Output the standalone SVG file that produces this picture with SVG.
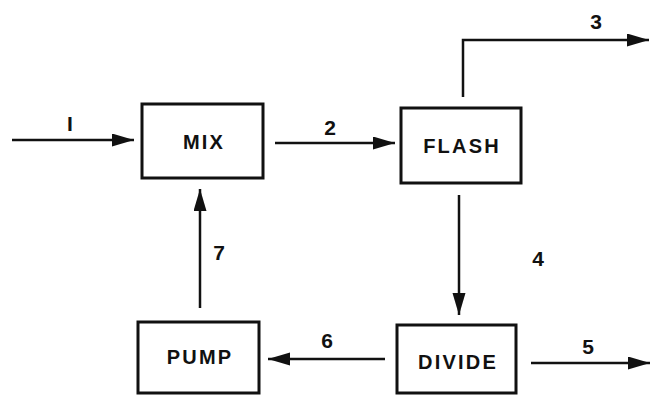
<svg xmlns="http://www.w3.org/2000/svg" width="651" height="396" viewBox="0 0 651 396">
<style>
.box{fill:#fff;stroke:#111;stroke-width:3}
.lbl{font-family:"Liberation Sans",Arial,sans-serif;font-weight:bold;font-size:20px;letter-spacing:2.2px;fill:#111;text-anchor:middle;dominant-baseline:central}
.num{font-family:"Liberation Sans",Arial,sans-serif;font-weight:bold;font-size:21px;fill:#111;text-anchor:middle;dominant-baseline:central}
.ln{fill:none;stroke:#111;stroke-width:2.5;marker-end:url(#ah)}
</style>
<defs>
<marker id="ah" markerWidth="24" markerHeight="14" refX="22" refY="6.5" orient="auto" markerUnits="userSpaceOnUse">
<path d="M0,0 L22,6.5 L0,13 Z" fill="#111"/>
</marker>
</defs>
<rect width="651" height="396" fill="#fff"/>
<g id="connectors">
<path class="ln" d="M12,140 L134,140"/>
<path class="ln" d="M275,143 L395,143"/>
<path class="ln" d="M463,97 L463,40 L649,40"/>
<path class="ln" d="M459,195 L459,315"/>
<path class="ln" d="M531,363 L650,363"/>
<path class="ln" d="M385,359 L268,359"/>
<path class="ln" d="M200,308 L200,189"/>
<text class="num" x="70" y="123">I</text>
<text class="num" x="330" y="127">2</text>
<text class="num" x="596" y="21">3</text>
<text class="num" x="538" y="258">4</text>
<text class="num" x="588" y="346">5</text>
<text class="num" x="327" y="340">6</text>
<text class="num" x="219" y="252">7</text>
</g>
<g id="mix"><rect class="box" x="142" y="104" width="121" height="74"/><text class="lbl" x="204" y="142">MIX</text></g>
<g id="flash"><rect class="box" x="401" y="108" width="120" height="75"/><text class="lbl" x="462" y="146">FLASH</text></g>
<g id="divide"><rect class="box" x="397" y="325" width="119" height="68"/><text class="lbl" x="458" y="362">DIVIDE</text></g>
<g id="pump"><rect class="box" x="138" y="322" width="121" height="71"/><text class="lbl" x="200" y="357">PUMP</text></g>
</svg>
